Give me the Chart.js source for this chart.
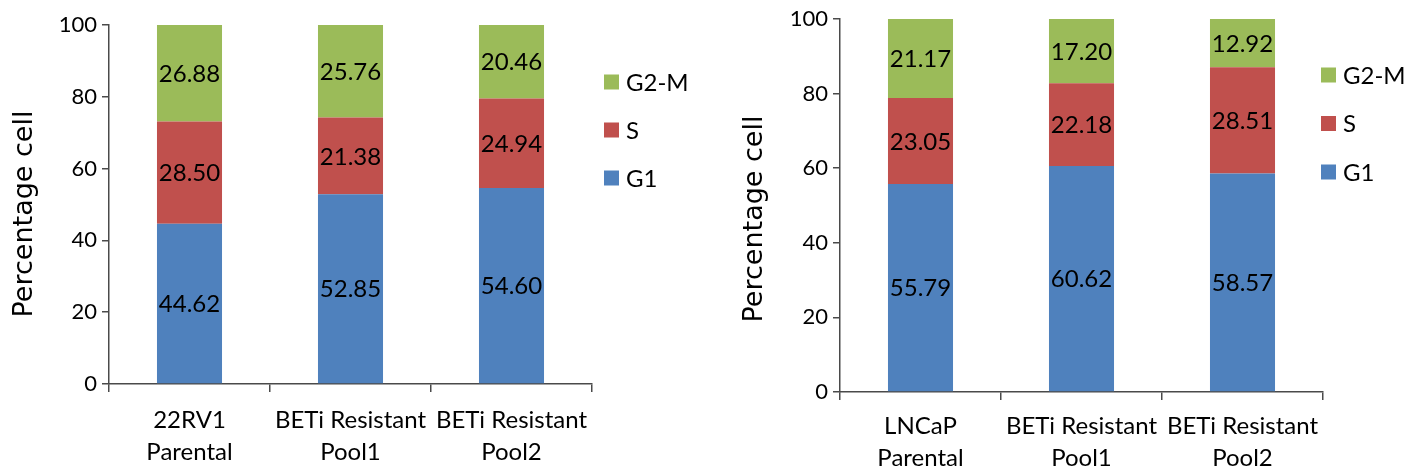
<!DOCTYPE html>
<html>
<head>
<meta charset="utf-8">
<script src="https://cdn.jsdelivr.net/npm/chart.js@4"></script>
<style>
body{margin:0;background:#fff;width:1408px;height:470px;overflow:hidden}
.box{position:absolute;top:0;width:704px;height:470px}
</style>
</head>
<body>
<div class="box" style="left:0"><canvas id="chartLeft"></canvas></div>
<div class="box" style="left:704px"><canvas id="chartRight"></canvas></div>
<script>
const seriesNames = ['G1', 'S', 'G2-M'];
const seriesColors = ['#4F81BD', '#C0504D', '#9BBB59'];
const yTicks = [0, 20, 40, 60, 80, 100];
const yTitle = 'Percentage cell';

const labels22rv1 = [['22RV1', 'Parental'], ['BETi Resistant', 'Pool1'], ['BETi Resistant', 'Pool2']];
const g1_22rv1 = [44.62, 52.85, 54.60];
const s_22rv1 = [28.50, 21.38, 24.94];
const g2m_22rv1 = [26.88, 25.76, 20.46];

const labelsLncap = [['LNCaP', 'Parental'], ['BETi Resistant', 'Pool1'], ['BETi Resistant', 'Pool2']];
const g1_lncap = [55.79, 60.62, 58.57];
const s_lncap = [23.05, 22.18, 28.51];
const g2m_lncap = [21.17, 17.20, 12.92];

const axisColor = '#4a4a4a';
Chart.defaults.font.family = 'Lato';

// value printed in the middle of every segment
const segmentLabels = {
  id: 'segmentLabels',
  afterDatasetsDraw(chart) {
    const ctx = chart.ctx;
    ctx.save();
    ctx.font = '24px Lato';
    ctx.fillStyle = '#000';
    ctx.textAlign = 'center';
    ctx.textBaseline = 'middle';
    chart.data.datasets.forEach((ds, i) => {
      chart.getDatasetMeta(i).data.forEach((bar, j) => {
        ctx.fillText(ds.data[j].toFixed(2), bar.x, (bar.y + bar.base) / 2 + 1);
      });
    });
    ctx.restore();
  }
};

// legend to the right, top entry = last series
const sideLegend = {
  id: 'sideLegend',
  afterDraw(chart, args, opts) {
    const ctx = chart.ctx;
    const area = chart.chartArea;
    ctx.save();
    ctx.font = '24px Lato';
    ctx.textAlign = 'left';
    ctx.textBaseline = 'middle';
    const n = chart.data.datasets.length;
    for (let k = 0; k < n; k++) {
      const ds = chart.data.datasets[n - 1 - k];
      const cy = area.top + opts.dy + k * opts.gap;
      const x = area.right + opts.dx;
      ctx.fillStyle = ds.backgroundColor;
      ctx.fillRect(x, cy - 7.5, 15, 15);
      ctx.fillStyle = '#000';
      ctx.fillText(ds.label, x + 22, cy + 1);
    }
    ctx.restore();
  }
};

const yAxisTitle = {
  id: 'yAxisTitle',
  afterDraw(chart, args, opts) {
    const ctx = chart.ctx;
    ctx.save();
    ctx.font = '27px "DejaVu Sans"';
    ctx.fillStyle = '#000';
    ctx.textAlign = 'center';
    ctx.textBaseline = 'middle';
    ctx.translate(opts.x, opts.y);
    ctx.rotate(-Math.PI / 2);
    ctx.fillText(yTitle, 0, 0);
    ctx.restore();
  }
};

function makeChart(id, labels, g1, s, g2m, g) {
  const values = [g1, s, g2m];
  new Chart(document.getElementById(id), {
    type: 'bar',
    data: {
      labels: labels,
      datasets: values.map((v, i) => ({
        label: seriesNames[i],
        data: v,
        backgroundColor: seriesColors[i],
        barPercentage: 0.404,
        categoryPercentage: 1
      }))
    },
    options: {
      responsive: true,
      maintainAspectRatio: false,
      animation: false,
      layout: {padding: {left: 0, top: g.top, right: g.right, bottom: 0}},
      plugins: {
        legend: {display: false},
        tooltip: {enabled: false},
        sideLegend: g.legend,
        yAxisTitle: g.title
      },
      scales: {
        x: {
          stacked: true,
          offset: true,
          grid: {offset: true, drawOnChartArea: false, tickLength: 8, color: axisColor, lineWidth: 1.5},
          border: {display: true, color: axisColor, width: 1.5},
          ticks: {color: '#000', font: {size: 24, lineHeight: 1.35}, padding: g.xPad, maxRotation: 0, autoSkip: false},
          afterFit(sc) { sc.height = g.xHeight; }
        },
        y: {
          stacked: true,
          min: yTicks[0],
          max: yTicks[yTicks.length - 1],
          ticks: {stepSize: yTicks[1] - yTicks[0], color: '#000', font: {size: 22}, padding: 5},
          grid: {drawOnChartArea: false, tickLength: 7, color: axisColor, lineWidth: 1.5},
          border: {display: true, color: axisColor, width: 1.5},
          afterFit(sc) { sc.width = g.yWidth; }
        }
      }
    },
    plugins: [segmentLabels, sideLegend, yAxisTitle]
  });
}

makeChart('chartLeft', labels22rv1, g1_22rv1, s_22rv1, g2m_22rv1, {
  top: 25, right: 112, yWidth: 109, xHeight: 86, xPad: 12,
  legend: {dx: 12, dy: 57, gap: 48},
  title: {x: 25, y: 214}
});
makeChart('chartRight', labelsLncap, g1_lncap, s_lncap, g2m_lncap, {
  top: 19, right: 85, yWidth: 136, xHeight: 78, xPad: 10,
  legend: {dx: -2, dy: 56, gap: 48.5},
  title: {x: 51, y: 219}
});
</script>
</body>
</html>
